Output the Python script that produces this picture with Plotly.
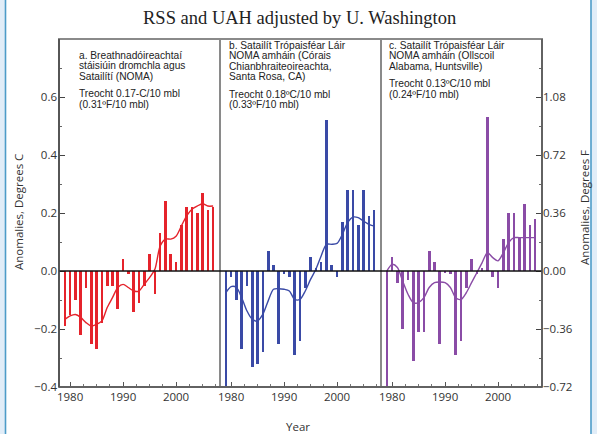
import plotly.graph_objects as go
from plotly.subplots import make_subplots

years = list(range(1979, 2008))

a_vals = [-0.19, -0.15, -0.10, -0.22, -0.06, -0.25, -0.27, -0.18, -0.05, -0.05,
          -0.13, 0.04, -0.01, -0.14, -0.11, -0.05, 0.06, -0.08, 0.13, 0.24,
          0.06, 0.03, 0.16, 0.22, 0.22, 0.20, 0.27, 0.21, 0.22]
a_smooth = [-0.167, -0.155, -0.15, -0.16, -0.178, -0.19, -0.184, -0.172, -0.126, -0.092,
            -0.057, -0.046, -0.057, -0.069, -0.069, -0.046, -0.023, 0.006, 0.086, 0.11,
            0.11, 0.12, 0.155, 0.19, 0.213, 0.224, 0.232, 0.224, 0.224]

b_vals = [-0.41, -0.02, -0.10, -0.27, -0.05, -0.33, -0.32, -0.28, 0.07, 0.02,
          -0.25, -0.01, -0.02, -0.29, -0.24, -0.06, 0.05, 0.01, 0.03, 0.52,
          0.02, -0.02, 0.17, 0.28, 0.28, 0.16, 0.28, 0.19, 0.21]
b_smooth = [-0.075, -0.054, -0.057, -0.092, -0.138, -0.167, -0.172, -0.149, -0.103, -0.063,
            -0.061, -0.063, -0.069, -0.098, -0.098, -0.069, -0.029, 0.006, 0.052, 0.092,
            0.092, 0.095, 0.126, 0.167, 0.186, 0.184, 0.172, 0.161, 0.155]

c_vals = [-0.40, 0.05, -0.04, -0.20, -0.03, -0.31, -0.21, -0.21, 0.07, 0.03,
          -0.25, -0.005, -0.01, -0.29, -0.24, -0.06, 0.04, -0.01, 0.01, 0.53,
          -0.02, -0.06, 0.11, 0.20, 0.20, 0.115, 0.23, 0.16, 0.18]
c_smooth = [0.0, 0.023, 0.012, -0.035, -0.08, -0.109, -0.109, -0.092, -0.057, -0.04,
            -0.038, -0.04, -0.057, -0.092, -0.098, -0.075, -0.04, -0.006, 0.029, 0.063,
            0.046, 0.035, 0.063, 0.098, 0.115, 0.115, 0.115, 0.115, 0.115]

c_ticks = [-0.4, -0.2, 0.0, 0.2, 0.4, 0.6]
f_ticks = [-0.72, -0.36, 0.0, 0.36, 0.72, 1.08]
x_ticks = [1980, 1990, 2000]

title_text = "RSS and UAH adjusted by U. Washington"
left_title = "Anomalies, Degrees C"
right_title = "Anomalies, Degrees F"
x_title = "Year"
panel_texts = [
    ["a. Breathnadóireachtaí", "stáisiúin dromchla agus", "Satailítí (NOMA)", "",
     "Treocht 0.17-C/10 mbl", "(0.31ºF/10 mbl)"],
    ["b. Satailít Trópaisféar Láir", "NOMA amháin (Córais", "Chianbhraiteoireachta,",
     "Santa Rosa, CA)", "", "Treocht 0.18ºC/10 mbl", "(0.33ºF/10 mbl)"],
    ["c. Satailít Trópaisféar Láir", "NOMA amháin (Ollscoil", "Alabama, Huntsville)", "",
     "Treocht 0.13ºC/10 mbl", "(0.24ºF/10 mbl)"],
]
colors = ["#e5232b", "#3a4aa6", "#8a4ca6"]

W, H = 597, 434
L, R, T, B = 59, 55, 39, 47
PW = W - L - R
PH = H - T - B


def px_x(px):
    return (px - L) / PW


def px_y(py):
    return (H - B - py) / PH


fig = make_subplots(rows=1, cols=3, horizontal_spacing=0, shared_yaxes=False)

for i, (vals, smooth) in enumerate([(a_vals, a_smooth), (b_vals, b_smooth), (c_vals, c_smooth)]):
    fig.add_trace(go.Bar(x=years, y=vals, width=0.5, marker=dict(color=colors[i], line=dict(width=0)),
                         showlegend=False), row=1, col=i + 1)
    fig.add_trace(go.Scatter(x=years, y=smooth, mode="lines",
                             line=dict(color=colors[i], width=1.4, shape="spline", smoothing=0.8),
                             showlegend=False), row=1, col=i + 1)

# invisible trace for Fahrenheit axis
fig.add_trace(go.Scatter(x=years, y=[v * 1.8 for v in c_smooth], mode="lines", line=dict(width=0),
                         opacity=0, showlegend=False, hoverinfo="skip", xaxis="x3", yaxis="y4"))

tick_font = dict(family="Open Sans, Arial, sans-serif", size=11.5, color="#333")
title_font = dict(family="Open Sans, Arial, sans-serif", size=11.5, color="#333")
frame_col = "#8a8a8a"

for i in range(1, 4):
    fig.update_xaxes(range=[1977.9, 2008.3], tickvals=x_ticks, ticks="inside", ticklen=5,
                     tickcolor="#555", tickfont=tick_font, showline=False, automargin=False,
                     showgrid=False, zeroline=False, ticklabelstandoff=1,
                     minor=dict(dtick=2.5, tick0=1980, ticks="inside", ticklen=3, tickcolor="#777"),
                     row=1, col=i)
    fig.update_yaxes(range=[-0.4, 0.8], showline=False, automargin=False,
                     showgrid=False, zeroline=False, row=1, col=i)

fig.update_yaxes(tickvals=c_ticks, tickformat=".1f", ticks="inside", ticklen=6, tickcolor="#444",
                 tickfont=tick_font, ticklabelstandoff=1,
                 minor=dict(dtick=0.1, tick0=0, ticks="inside", ticklen=3, tickcolor="#666"),
                 row=1, col=1)
fig.update_yaxes(showticklabels=False, ticks="", row=1, col=2)
fig.update_yaxes(showticklabels=False, ticks="", row=1, col=3)

fig.update_layout(
    yaxis4=dict(overlaying="y3", side="right", anchor="x3", range=[-0.72, 1.44], automargin=False,
                tickvals=f_ticks, tickformat=".2f", ticks="inside", ticklen=6, tickcolor="#444",
                tickfont=tick_font, ticklabelstandoff=0, showgrid=False, zeroline=False,
                showline=False,
                minor=dict(dtick=0.18, tick0=0, ticks="inside", ticklen=3, tickcolor="#666")),
)

shapes = []
# panel frame and dividers (gray)
shapes.append(dict(type="rect", xref="paper", yref="paper", x0=0, x1=1, y0=0, y1=1,
                   line=dict(color=frame_col, width=2)))
for xd in (1 / 3, 2 / 3):
    shapes.append(dict(type="line", xref="paper", yref="paper", x0=xd, x1=xd, y0=0, y1=1,
                       line=dict(color=frame_col, width=2)))
# zero line
shapes.append(dict(type="line", xref="paper", yref="y", x0=0, x1=1, y0=0, y1=0,
                   line=dict(color="#111", width=1.7)))
# left, bottom, right axis lines darker
shapes.append(dict(type="line", xref="paper", yref="paper", x0=0, x1=0, y0=0, y1=1,
                   line=dict(color="#444", width=1.5)))
shapes.append(dict(type="line", xref="paper", yref="paper", x0=0, x1=1, y0=0, y1=0,
                   line=dict(color="#555", width=1.5)))
shapes.append(dict(type="line", xref="paper", yref="paper", x0=1, x1=1, y0=0, y1=1,
                   line=dict(color="#555", width=1.5)))
# page side bands
shapes.append(dict(type="rect", xref="paper", yref="paper", x0=px_x(-2), x1=px_x(5.5), y0=px_y(H + 2),
                   y1=px_y(-2), fillcolor="#e1edf8", line=dict(width=0)))
shapes.append(dict(type="line", xref="paper", yref="paper", x0=px_x(5.5), x1=px_x(5.5), y0=px_y(H + 2),
                   y1=px_y(-2), line=dict(color="#4d9cc8", width=1.6)))
shapes.append(dict(type="rect", xref="paper", yref="paper", x0=px_x(591), x1=px_x(W + 2), y0=px_y(H + 2),
                   y1=px_y(-2), fillcolor="#e1edf8", line=dict(width=0)))
shapes.append(dict(type="line", xref="paper", yref="paper", x0=px_x(591), x1=px_x(591), y0=px_y(H + 2),
                   y1=px_y(-2), line=dict(color="#4d9cc8", width=1.6)))

annotations = []
annotations.append(dict(text=title_text, xref="paper", yref="paper", x=px_x(299), y=px_y(18),
                        xanchor="center", yanchor="middle", showarrow=False,
                        font=dict(family="Liberation Serif, Times New Roman, serif", size=18.5, color="#222")))
annotations.append(dict(text=left_title, xref="paper", yref="paper", x=px_x(18), y=px_y(212),
                        xanchor="center", yanchor="middle", showarrow=False, textangle=-90, font=title_font))
annotations.append(dict(text=right_title, xref="paper", yref="paper", x=px_x(584), y=px_y(208),
                        xanchor="center", yanchor="middle", showarrow=False, textangle=-90, font=title_font))
annotations.append(dict(text=x_title, xref="paper", yref="paper", x=px_x(298), y=px_y(426),
                        xanchor="center", yanchor="middle", showarrow=False, font=title_font))

starts = [(78, 55), (228, 45), (388, 45)]
line_h = 10.5
for (x0, y0), lines in zip(starts, panel_texts):
    y = y0
    for ln in lines:
        if ln:
            annotations.append(dict(text=ln, xref="paper", yref="paper", x=px_x(x0), y=px_y(y),
                                    xanchor="left", yanchor="middle", showarrow=False, borderpad=0,
                                    font=dict(family="Liberation Sans, Arial, sans-serif", size=10.2,
                                              color="#222")))
            y += line_h
        else:
            y += 7

fig.update_layout(
    width=W, height=H,
    margin=dict(l=L, r=R, t=T, b=B, pad=0),
    paper_bgcolor="white", plot_bgcolor="white",
    bargap=0, barmode="overlay",
    shapes=shapes, annotations=annotations,
    showlegend=False,
)

fig.write_html("out.html", config={"displayModeBar": False},
               post_script="document.body.style.margin='0';document.body.style.overflow='hidden';")
